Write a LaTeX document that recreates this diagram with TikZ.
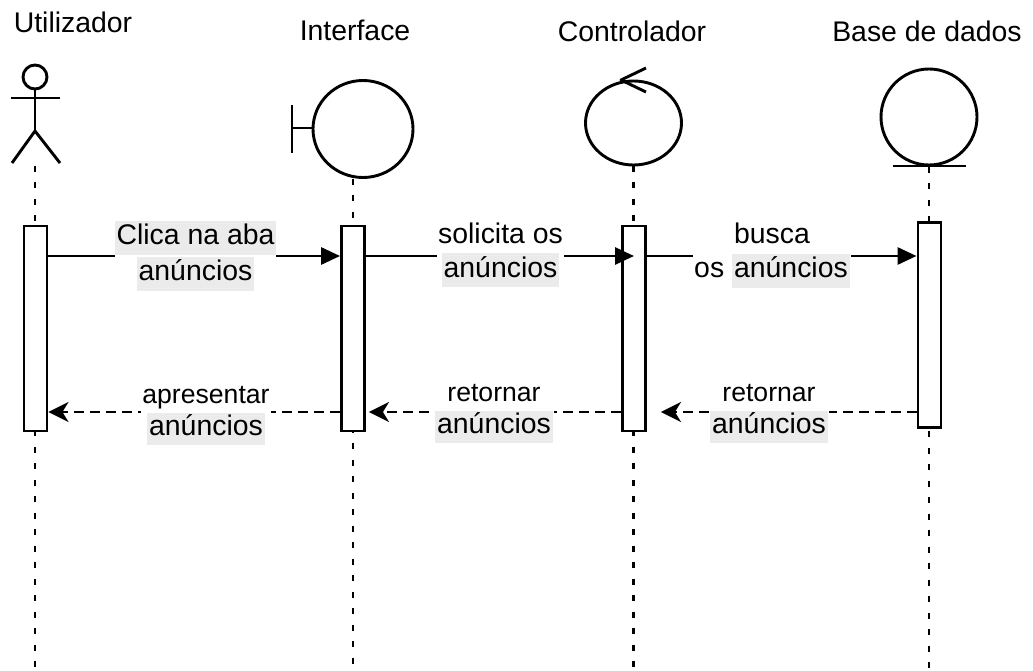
\documentclass[tikz,border=0pt]{standalone}
\usepackage{fontspec}
\setmainfont{Liberation Sans}
\usetikzlibrary{arrows.meta}
\definecolor{hlgray}{RGB}{235,235,235}
\newcommand{\hlbox}[1]{{\setlength{\fboxsep}{0pt}\colorbox{hlgray}{\hspace{2pt}\strut #1\hspace{2pt}}}}
\begin{document}
\begin{tikzpicture}[x=1pt,y=-1pt,
  shapeline/.style={line width=2.9pt, line join=round},
  lifeline/.style={line width=2.9pt, dash pattern=on 6pt off 10.5pt},
  actbox/.style={draw, fill=white, line width=2.9pt, minimum width=23pt, minimum height=205pt, inner sep=0pt},
  title/.style={font=\fontsize{28.4}{34}\selectfont, anchor=base, inner sep=0pt},
  lbl/.style={fill=white, inner sep=1pt, align=center, font=\fontsize{28.4}{34}\selectfont},
  rlbl/.style={fill=white, inner sep=1pt, align=center, font=\fontsize{26.6}{32}\selectfont},
  msg/.style={line width=2.9pt, -{Triangle[length=19pt,width=17pt]}},
  ret/.style={line width=2.9pt, dash pattern=on 10pt off 6pt, -{Stealth[length=20pt,width=20pt,inset=6pt]}}
]
\fill[white] (0,0) rectangle (1033,671);
\useasboundingbox (0,0) rectangle (1033,671);

% titles
\node[title] (tU) at (73,33) {Utilizador};
\node[title] (tI) at (355,41) {Interface};
\node[title] (tC) at (632,42) {Controlador};
\node[title] (tB) at (927,42) {Base de dados};

% actor icon
\draw[shapeline] (35,77) circle[radius=12pt];
\draw[shapeline] (11,98) -- (60,98);
\draw[shapeline] (35,89) -- (35,131);
\draw[shapeline] (12,163) -- (35,131) -- (60,163);

% boundary icon
\draw[shapeline] (292,105) -- (292,153);
\draw[shapeline] (292,128) -- (313,128);
\draw[shapeline] (363,129) ellipse[x radius=50pt, y radius=48.5pt];

% control icon
\draw[shapeline] (633.5,123) ellipse[x radius=48pt, y radius=42pt];
\draw[shapeline] (646,68) -- (621,80) -- (646,92);

% entity icon
\draw[shapeline] (929,117) circle[radius=48pt];
\draw[shapeline] (893,166) -- (966,166);

% lifelines
\coordinate (uTop) at (35,166);   \coordinate (uBot) at (35,675);
\coordinate (iTop) at (353,179);  \coordinate (iBot) at (353,675);
\coordinate (cTop) at (633.5,166);\coordinate (cBot) at (633.5,675);
\coordinate (bTop) at (929,167);  \coordinate (bBot) at (929,675);
\draw[lifeline] (uTop) -- (uBot);
\draw[lifeline] (iTop) -- (iBot);
\draw[lifeline] (cTop) -- (cBot);
\draw[lifeline] (bTop) -- (bBot);

% activation boxes
\node[actbox] (a1) at (35.5,328.5) {};
\node[actbox] (a2) at (353,328.5) {};
\node[actbox] (a3) at (634,328.5) {};
\node[actbox] (a4) at (929.5,325) {};

% messages
\coordinate (ym) at (0,256);
\coordinate (yr) at (0,412);
\draw[msg] (a1.east |- ym) -- (a2.west |- ym);
\draw[msg] (a2.east |- ym) -- (a3.center |- ym);
\draw[msg] (a3.east |- ym) -- (a4.west |- ym);
\draw[ret, shorten >=14pt] (a4.west |- yr) -- (a3.east |- yr);
\draw[ret, shorten >=3pt] (a3.west |- yr) -- (a2.east |- yr);
\draw[ret] (a2.west |- yr) -- (a1.east |- yr);

% labels
\node[lbl, inner sep=0pt] (l1) at (195.5,256) {\hlbox{Clica na aba}\\[2pt]\hlbox{anúncios}};
\node[lbl] (l2) at (500.5,253.2) {\strut solicita os\\\hlbox{anúncios}};
\node[lbl] (l3) at (772,253.5) {\strut busca\\\strut os \hlbox{anúncios}};
\node[rlbl] (l4) at (769,411.3) {\strut retornar\\{\fontsize{28.4}{32}\selectfont\hlbox{anúncios}}};
\node[rlbl] (l5) at (494,411.3) {\strut retornar\\{\fontsize{28.4}{32}\selectfont\hlbox{anúncios}}};
\node[rlbl] (l6) at (206,413) {\strut apresentar\\{\fontsize{28.4}{32}\selectfont\hlbox{anúncios}}};
\end{tikzpicture}
\end{document}
